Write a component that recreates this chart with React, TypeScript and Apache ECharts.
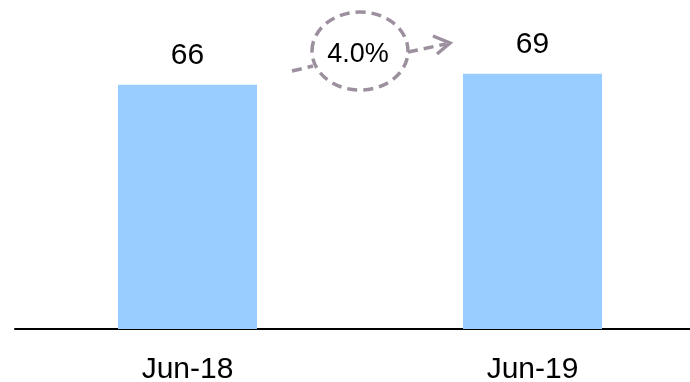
import React, { useEffect, useRef } from "react";
import * as echarts from "echarts";

const categories = ["Jun-18", "Jun-19"];
const values = [66, 69];
const growthLabel = "4.0%";

const FONT = "'Liberation Sans', Arial, sans-serif";
const ACCENT = "#9c8f9e";
const DASH = [10, 6];

export default function App() {
  const ref = useRef<HTMLDivElement>(null);
  useEffect(() => {
    if (!ref.current) return;
    const chart = echarts.init(ref.current, undefined, { renderer: "svg" });
    chart.setOption({
      animation: false,
      grid: {
        left: 15,
        width: 690,
        top: 33,
        bottom: 53,
        containLabel: false,
        outerBoundsMode: "none",
      },
      xAxis: {
        type: "category",
        data: categories,
        axisLine: { show: true, lineStyle: { color: "#000", width: 2 } },
        axisTick: { show: false },
        axisLabel: { color: "#000", fontSize: 30, fontFamily: FONT, margin: 23 },
      },
      yAxis: {
        type: "value",
        min: 0,
        max: 80,
        show: false,
        splitLine: { show: false },
      },
      series: [
        {
          type: "bar",
          data: values,
          barWidth: 139,
          itemStyle: { color: "#99ccff" },
          label: {
            show: true,
            position: "top",
            distance: 16,
            color: "#000",
            fontSize: 30,
            fontFamily: FONT,
          },
        },
      ],
      graphic: [
        {
          type: "ellipse",
          shape: { cx: 360, cy: 51, rx: 48, ry: 39 },
          style: { fill: "none", stroke: ACCENT, lineWidth: 3.5, lineDash: DASH },
        },
        {
          type: "polyline",
          shape: { points: [[292, 71], [313, 66]] },
          style: { fill: "none", stroke: ACCENT, lineWidth: 3.5, lineDash: DASH },
        },
        {
          type: "polyline",
          shape: { points: [[408, 52], [446, 44]] },
          style: { fill: "none", stroke: ACCENT, lineWidth: 3.5, lineDash: DASH },
        },
        {
          type: "polyline",
          shape: { points: [[433, 36], [450, 43], [437, 54]] },
          style: { fill: "none", stroke: ACCENT, lineWidth: 3.5 },
        },
        {
          type: "text",
          x: 358,
          y: 53,
          style: {
            text: growthLabel,
            fill: "#000",
            font: `27px ${FONT}`,
            align: "center",
            verticalAlign: "middle",
          },
        },
      ],
    });
    return () => chart.dispose();
  }, []);
  return (
    <div
      ref={ref}
      style={{ position: "fixed", left: 0, top: 0, width: 690, height: 382 }}
    />
  );
}
